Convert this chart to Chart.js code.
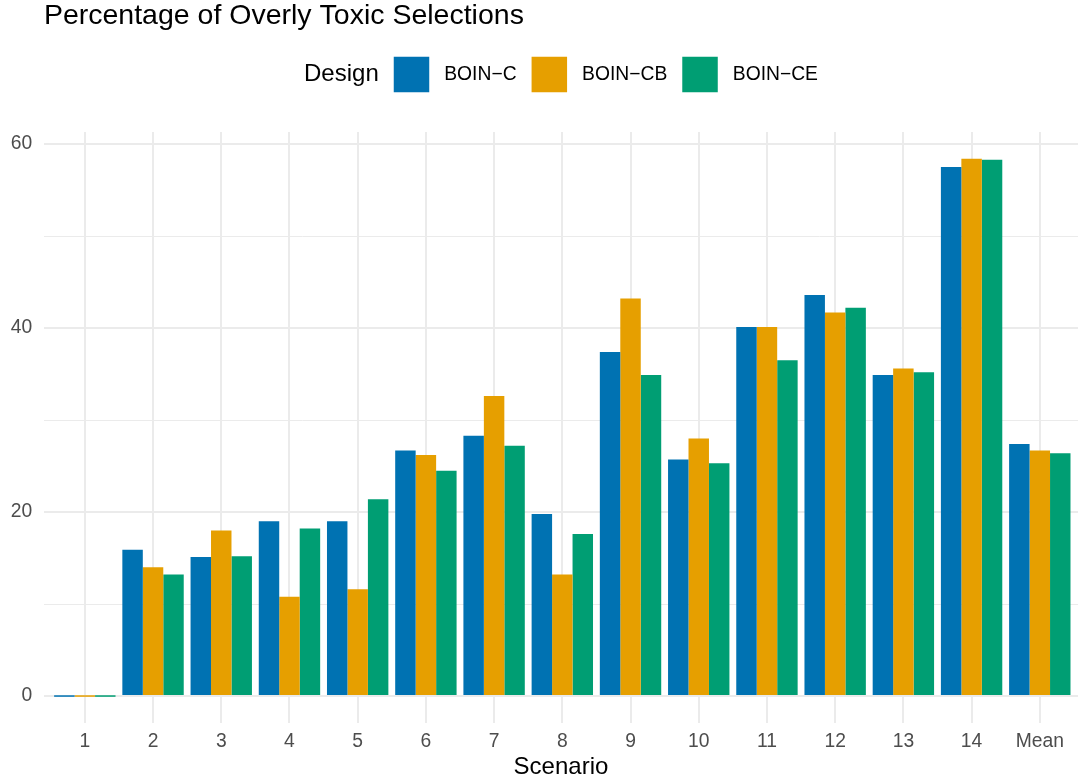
<!DOCTYPE html>
<html>
<head>
<meta charset="utf-8">
<script src="https://cdn.jsdelivr.net/npm/chart.js@4.4.1/dist/chart.umd.min.js"></script>
<style>
  html, body { margin: 0; padding: 0; background: #ffffff; }
  #wrap { position: relative; width: 1078px; height: 782px; }
</style>
</head>
<body>
<div id="wrap"><canvas id="c"></canvas></div>
<script>
// ---- data ----
const categories = ['1','2','3','4','5','6','7','8','9','10','11','12','13','14','Mean'];
const boinC  = [0, 15.9, 15.1, 19.0, 19.0, 26.7, 28.3, 19.8, 37.4, 25.7, 40.1, 43.6, 34.9, 57.5, 27.4];
const boinCB = [0, 14.0, 18.0, 10.8, 11.6, 26.2, 32.6, 13.2, 43.2, 28.0, 40.1, 41.7, 35.6, 58.4, 26.7];
const boinCE = [0, 13.2, 15.2, 18.2, 21.4, 24.5, 27.2, 17.6, 34.9, 25.3, 36.5, 42.2, 35.2, 58.3, 26.4];
const seriesNames = ['BOIN\u2212C', 'BOIN\u2212CB', 'BOIN\u2212CE'];
const yTicks = [0, 10, 20, 30, 40, 50, 60];
const titleText = 'Percentage of Overly Toxic Selections';
const legendTitle = 'Design';
const xTitle = 'Scenario';

const colors = ['#0072B2', '#E69F00', '#009E73'];
const FONT = "'Liberation Sans', Arial, Helvetica, sans-serif";
Chart.defaults.font.family = FONT;

function toPoints(arr) { return arr.map((v, i) => ({ x: i + 1, y: v })); }

const LEG_PAD = 15;
const LEG_CENTER = 561;

const layoutPlugin = {
  id: 'ggLayout',
  afterLayout(chart) {
    if (chart.titleBlock) chart.titleBlock.left = chart.chartArea.left;
    const lg = chart.legend;
    if (lg && lg.lineWidths) {
      const ctx = chart.ctx;
      ctx.save();
      ctx.font = '24px ' + FONT;
      const dW = ctx.measureText(legendTitle).width;
      ctx.restore();
      const itemsW = lg.lineWidths[0] - LEG_PAD;
      const groupW = dW + 15 + itemsW;
      const desiredFirst = LEG_CENTER - groupW / 2 + dW + 15;
      const defaultFirst = (lg.left + LEG_PAD + lg.right - lg.lineWidths[0]) / 2;
      const shift = desiredFirst - defaultFirst;
      lg.left += shift;
      lg.right += shift;
    }
  },
  afterDraw(chart) {
    const lg = chart.legend;
    if (!lg || !lg.lineWidths) return;
    const firstX = (lg.left + LEG_PAD + lg.right - lg.lineWidths[0]) / 2;
    const y = lg.top + LEG_PAD + 35.5 / 2;
    const ctx = chart.ctx;
    ctx.save();
    ctx.font = '24px ' + FONT;
    ctx.fillStyle = '#000000';
    ctx.textAlign = 'right';
    ctx.textBaseline = 'middle';
    ctx.fillText(legendTitle, firstX - 15, y);
    ctx.restore();
  }
};

new Chart(document.getElementById('c'), {
  type: 'bar',
  data: {
    datasets: [boinC, boinCB, boinCE].map((arr, k) => ({
      label: seriesNames[k],
      data: toPoints(arr),
      backgroundColor: colors[k],
      borderWidth: 0,
      categoryPercentage: 0.9,
      barPercentage: 1.0,
      minBarLength: 1.5
    }))
  },
  plugins: [layoutPlugin],
  options: {
    responsive: true,
    maintainAspectRatio: false,
    animation: false,
    layout: { padding: { left: 10.8, right: 0, top: 0, bottom: 0 } },
    plugins: {
      tooltip: { enabled: false },
      title: {
        display: true,
        text: titleText,
        align: 'start',
        color: '#000000',
        font: { size: 28.5, weight: 'normal', lineHeight: 1.1 },
        padding: { top: 0, bottom: 10.35 }
      },
      subtitle: {
        display: true,
        text: '',
        weight: 100,
        font: { size: 10, lineHeight: 1 },
        padding: { top: 19.7, bottom: 0 }
      },
      legend: {
        display: true,
        position: 'top',
        align: 'center',
        labels: {
          boxWidth: 35.5,
          boxHeight: 35.5,
          padding: LEG_PAD,
          color: '#000000',
          font: { size: 19.3 },
          generateLabels(chart) {
            const items = Chart.defaults.plugins.legend.labels.generateLabels(chart);
            items.forEach(it => { it.text = ' ' + it.text; it.lineWidth = 0; });
            return items;
          }
        }
      }
    },
    scales: {
      x: {
        type: 'linear',
        min: 0.4,
        max: 15.56,
        offset: false,
        afterBuildTicks(scale) {
          scale.ticks = categories.map((c, i) => ({ value: i + 1 }));
        },
        afterFit(scale) { scale.height = 59.1; },
        ticks: {
          autoSkip: false,
          maxRotation: 0,
          padding: 7,
          color: '#4D4D4D',
          font: { size: 19.3, lineHeight: 1.2 },
          callback(value) { return categories[Math.round(value) - 1]; }
        },
        grid: { color: '#EBEBEB', lineWidth: 2, drawTicks: false, offset: false },
        border: { display: false },
        title: {
          display: true,
          text: xTitle,
          color: '#000000',
          font: { size: 24, lineHeight: 1.2 },
          padding: { top: 0, bottom: 0 }
        }
      },
      y: {
        type: 'linear',
        min: -2.92,
        max: 61.32,
        afterBuildTicks(scale) {
          scale.ticks = yTicks.map(v => ({ value: v }));
        },
        afterFit(scale) { scale.width = 33.1; },
        ticks: {
          padding: 11.6,
          color: '#4D4D4D',
          font: { size: 19.3 },
          callback(value) { return value % 20 === 0 ? String(value) : ''; }
        },
        grid: {
          color: '#EBEBEB',
          lineWidth: ctx => (ctx.tick && ctx.tick.value % 20 === 0) ? 2 : 1,
          drawTicks: false
        },
        border: { display: false }
      }
    }
  }
});
</script>
</body>
</html>
